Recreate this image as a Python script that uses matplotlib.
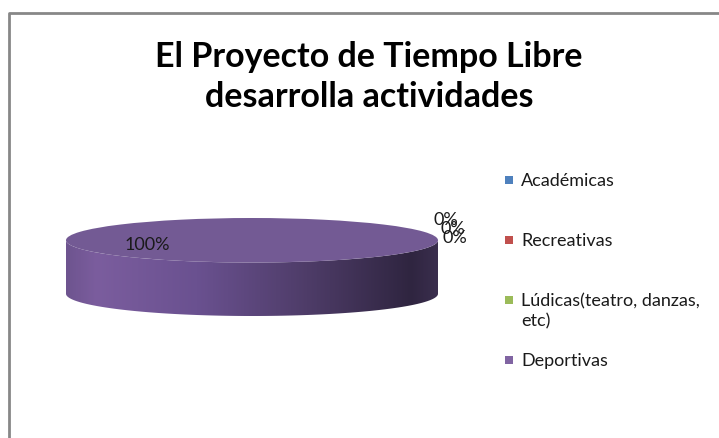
import numpy as np
import matplotlib
matplotlib.use("Agg")
import matplotlib.pyplot as plt
from matplotlib.patches import Rectangle, PathPatch
from matplotlib.path import Path
from matplotlib.colors import LinearSegmentedColormap

categories = ["Académicas", "Recreativas", "Lúdicas(teatro, danzas,\netc)", "Deportivas"]
values = [0, 0, 0, 100]
colors = ["#4F81BD", "#C0504D", "#9BBB59", "#8064A2"]
top_color = "#735A94"
title = "El Proyecto de Tiempo Libre\ndesarrolla actividades"

W, H = 719, 438
fig = plt.figure(figsize=(W / 100, H / 100), dpi=100)
fig.patch.set_facecolor("white")

def fx(px):
    return px / W

def fy(py):
    return 1 - py / H

# frame (extends past right/bottom edges)
frame_ax = fig.add_axes([0, 0, 1, 1])
frame_ax.set_xlim(0, W)
frame_ax.set_ylim(H, 0)
frame_ax.axis("off")
frame_ax.plot([9, 9, W + 5], [H + 5, 13, 13], color="#878787", lw=2, solid_capstyle="butt")

# pie axes
depth = 2.4
ax = fig.add_axes([fx(66), fy(316), fx(438) - fx(66), fy(218) - fy(316)])
startangle = 20
wedges, texts, autotexts = ax.pie(
    values, colors=[top_color if v > 0 else c for v, c in zip(values, colors)],
    startangle=startangle, counterclock=True, radius=1, center=(0, 0),
    autopct=lambda p: f"{p:.0f}%", pctdistance=0.6,
    textprops=dict(fontsize=13, color="#1a1a1a", family="Lato"),
    wedgeprops=dict(linewidth=0), frame=False)
ax.set_aspect("auto")
for w in wedges:
    w.set_zorder(5)

# side wall (front half of cylinder) with gradient
t = np.linspace(np.pi, 2 * np.pi, 200)
xs = np.concatenate([np.cos(t), np.cos(t[::-1])])
ys = np.concatenate([np.sin(t), np.sin(t[::-1]) - depth])
verts = np.column_stack([xs, ys])
clip = PathPatch(Path(np.vstack([verts, verts[:1]]), closed=True), transform=ax.transData,
                 facecolor="none", edgecolor="none")
ax.add_patch(clip)
cmap = LinearSegmentedColormap.from_list("side", [
    (0.0, "#6E548F"), (0.08, "#7B5D9E"), (0.35, "#6A5190"),
    (0.65, "#4E3C68"), (0.93, "#2F2540"), (1.0, "#3A2E4D")])
grad = np.linspace(0, 1, 400).reshape(1, -1)
im = ax.imshow(grad, cmap=cmap, extent=[-1, 1, -1 - depth, 0.2], aspect="auto", zorder=2)
im.set_clip_path(clip)
ax.set_xlim(-1, 1)
ax.set_ylim(-1 - depth, 1)

# zero-value labels stagger at the right (overlapping, as in the source)
offsets = [(1.04, 0.92), (1.08, 0.52), (1.09, 0.12)]
k = 0
for v, at in zip(values, autotexts):
    at.set_zorder(10)
    if v == 0:
        at.set_position(offsets[k])
        k += 1

# title
fig.text(fx(369), fy(77), title, ha="center", va="center", fontsize=24.5,
         fontweight="bold", family="Lato", color="black", linespacing=1.28)

# legend
for i, (cat, col) in enumerate(zip(categories, colors)):
    yc = 180 + 60 * i
    fig.patches.append(Rectangle((fx(505), fy(yc + 4)), 8 / W, 8 / H, transform=fig.transFigure,
                                 facecolor=col, edgecolor="none", figure=fig))
    fig.text(fx(521), fy(yc - 7), cat, ha="left", va="top", fontsize=13,
             family="Lato", color="#1a1a1a", linespacing=1.35)

fig.savefig("out.png", dpi=100)
